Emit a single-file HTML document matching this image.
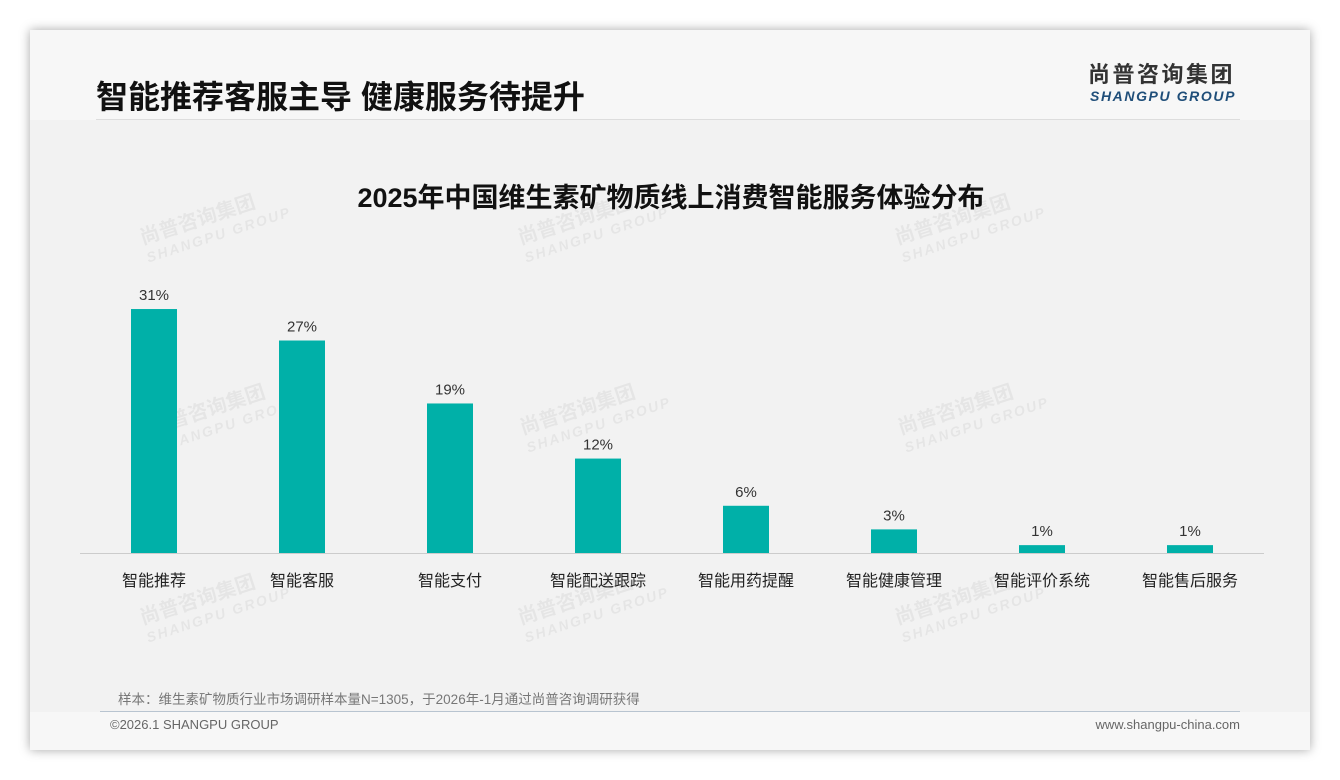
<!DOCTYPE html>
<html><head><meta charset="utf-8"><style>
body{margin:0;width:1340px;height:780px;background:#fff;font-family:"Liberation Sans","Noto Sans CJK SC",sans-serif;position:relative;overflow:hidden}
.card{position:absolute;left:30px;top:30px;width:1280px;height:720px;background:#f7f7f7;box-shadow:0 0 10px rgba(0,0,0,.35)}
.panel{position:absolute;left:30px;top:120px;width:1280px;height:592px;background:#f2f2f2}
.t{position:absolute;white-space:nowrap}
.wm{position:absolute;color:rgba(0,0,0,.05);font-weight:bold;transform:rotate(-18deg);font-size:20px;line-height:20px}
.wm span{display:block;font-size:14px;font-style:italic;letter-spacing:2px}
</style></head><body>
<div class="card"></div>
<div class="panel"></div>
<div class="t" style="left:96px;top:72px;font-size:32px;font-weight:bold;color:#111">智能推荐客服主导 健康服务待提升</div>
<div style="position:absolute;left:96px;top:119px;width:1144px;height:1px;background:#ddd"></div>
<div class="t" style="left:1088px;top:61px;font-size:22px;line-height:28px;font-weight:bold;color:#333;letter-spacing:2.5px">尚普咨询集团</div>
<div class="t" style="left:1090px;top:88px;font-size:14px;font-weight:bold;font-style:italic;color:#1f4e79;letter-spacing:1.6px">SHANGPU GROUP</div>
<div class="t" style="left:0;width:1340px;text-align:center;top:176px;font-size:27px;font-weight:bold;color:#111;padding-left:1px">2025年中国维生素矿物质线上消费智能服务体验分布</div>
<div class="wm" style="left:140px;top:205px">尚普咨询集团<span>SHANGPU GROUP</span></div>
<div class="wm" style="left:518px;top:205px">尚普咨询集团<span>SHANGPU GROUP</span></div>
<div class="wm" style="left:895px;top:205px">尚普咨询集团<span>SHANGPU GROUP</span></div>
<div class="wm" style="left:150px;top:395px">尚普咨询集团<span>SHANGPU GROUP</span></div>
<div class="wm" style="left:520px;top:395px">尚普咨询集团<span>SHANGPU GROUP</span></div>
<div class="wm" style="left:898px;top:395px">尚普咨询集团<span>SHANGPU GROUP</span></div>
<div class="wm" style="left:140px;top:585px">尚普咨询集团<span>SHANGPU GROUP</span></div>
<div class="wm" style="left:518px;top:585px">尚普咨询集团<span>SHANGPU GROUP</span></div>
<div class="wm" style="left:895px;top:585px">尚普咨询集团<span>SHANGPU GROUP</span></div>
<svg id="chart" style="position:absolute;left:0;top:0" width="1340" height="780"></svg>
<div class="t" style="left:118px;top:688px;font-size:13.5px;color:#777">样本：维生素矿物质行业市场调研样本量N=1305，于2026年-1月通过尚普咨询调研获得</div>
<div style="position:absolute;left:100px;top:711px;width:1140px;height:1px;background:#b8c4d0"></div>
<div class="t" style="left:110px;top:717px;font-size:13px;color:#666">©2026.1 SHANGPU GROUP</div>
<div class="t" style="right:100px;top:717px;font-size:13px;color:#666">www.shangpu-china.com</div>
<script>
const categories=["智能推荐","智能客服","智能支付","智能配送跟踪","智能用药提醒","智能健康管理","智能评价系统","智能售后服务"];
const values=[31,27,19,12,6,3,1,1];
const valueLabels=["31%","27%","19%","12%","6%","3%","1%","1%"];
const svg=document.getElementById('chart');
const NS='http://www.w3.org/2000/svg';
const base=553,pxPer=7.87,x0=80,x1=1264;
const step=(x1-x0)/categories.length;
function xc(i){return x0+step*(i+0.5);}
function yv(v){return base-v*pxPer;}
const axis=document.createElementNS(NS,'line');
axis.setAttribute('x1',x0);axis.setAttribute('x2',x1);axis.setAttribute('y1',base+0.5);axis.setAttribute('y2',base+0.5);
axis.setAttribute('stroke','#ccc');


svg.appendChild(axis);
categories.forEach((c,i)=>{
  const r=document.createElementNS(NS,'rect');
  r.setAttribute('x',xc(i)-23);r.setAttribute('width',46);r.setAttribute('y',yv(values[i]));r.setAttribute('height',base-yv(values[i]));
  r.setAttribute('fill','#00b0a8');
  
  
  svg.appendChild(r);
  const t=document.createElementNS(NS,'text');
  t.setAttribute('x',xc(i));t.setAttribute('y',yv(values[i])-9);t.setAttribute('text-anchor','middle');
  t.setAttribute('font-size','15');t.setAttribute('fill','#333');t.textContent=valueLabels[i];
  
  
  svg.appendChild(t);
  const l=document.createElementNS(NS,'text');
  l.setAttribute('x',xc(i));l.setAttribute('y',586);l.setAttribute('text-anchor','middle');
  l.setAttribute('font-size','16');l.setAttribute('fill','#222');l.textContent=c;
  
  
  svg.appendChild(l);
});
</script>
</body></html>
